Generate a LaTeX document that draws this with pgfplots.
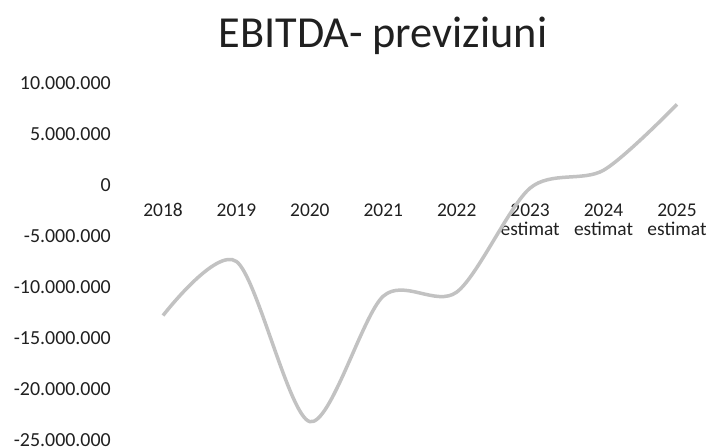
\documentclass[border=0pt]{standalone}
\usepackage{fontspec}
\setmainfont{Carlito}
\usepackage{pgfplots}
\pgfplotsset{compat=1.18}
\definecolor{txt}{HTML}{202020}
\definecolor{linegray}{HTML}{C2C2C2}
\begin{document}
\begin{tikzpicture}
% page = 710 x 448 bp, axis box origin at (126.3, 8) from lower left
\useasboundingbox (-126.3bp,-8bp) rectangle (583.7bp,440bp);
\begin{axis}[
  scale only axis,
  width=587.4bp, height=357bp,
  xmin=-0.5, xmax=7.5,
  ymin=-25000000, ymax=10000000,
  axis line style={draw=none},
  tick style={draw=none},
  xtick={0,...,7},
  xticklabels={2018,2019,2020,2021,2022,{2023\\estimat},{2024\\estimat},{2025\\estimat}},
  ytick={-25000000,-20000000,...,10000000},
  scaled y ticks=false,
  /pgf/number format/.cd, fixed, 1000 sep={.}, assume math mode=true,
  /pgfplots/.cd,
  xticklabel style={font=\fontsize{19.5}{19}\selectfont, text=txt, align=center, anchor=north, yshift=240bp},
  yticklabel style={font=\fontsize{20}{22}\selectfont, text=txt, anchor=east, xshift=-12bp},
  clip=false,
]
\addplot[linegray, line width=3.5bp, smooth, tension=0.5] coordinates {
  (0,-12800000)
  (1,-7500000)
  (2,-23200000)
  (3,-10900000)
  (4,-10500000)
  (5,-300000)
  (6,1450000)
  (7,7900000)
};
\end{axis}
\node[font=\fontsize{44.5}{46}\selectfont, text=txt] at (256.7bp,404bp) {EBITDA- previziuni};
\end{tikzpicture}
\end{document}
